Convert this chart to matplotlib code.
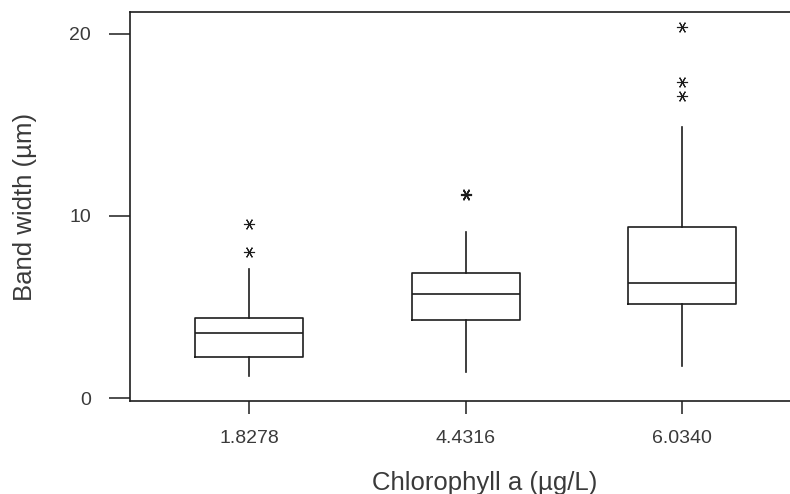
import matplotlib
matplotlib.use("Agg")
import matplotlib.pyplot as plt

plt.rcParams['font.family'] = ['Liberation Sans', 'DejaVu Sans']

# Chlorophyll a concentration groups
categories = ["1.8278", "4.4316", "6.0340"]

# Box-plot summary per group (band width, µm)
whisker_low = [1.21, 1.43, 1.76]
quartile_1 = [2.28, 4.26, 5.14]
medians = [3.58, 5.69, 6.31]
quartile_3 = [4.42, 6.88, 9.41]
whisker_high = [7.07, 9.14, 14.91]
outliers = [[9.54, 8.04], [11.17, 11.20], [20.38, 17.36, 16.59]]

y_ticks = [0, 10, 20]

ink = "#1e1e1e"
text_col = "#3a3a3a"

stats = []
for i, name in enumerate(categories):
    stats.append(dict(label=name, whislo=whisker_low[i], q1=quartile_1[i],
                      med=medians[i], q3=quartile_3[i], whishi=whisker_high[i],
                      fliers=outliers[i]))

fig = plt.figure(figsize=(7.9, 4.94), dpi=100)
# the plot frame runs past the right edge of the page
ax = fig.add_axes([0.1646, 0.188, 0.899, 0.7877])

positions = list(range(1, len(categories) + 1))
ax.bxp(stats, positions=positions, widths=0.5, showcaps=False,
       boxprops=dict(color=ink, linewidth=1.2),
       medianprops=dict(color=ink, linewidth=1.2),
       whiskerprops=dict(color=ink, linewidth=1.2),
       flierprops=dict(marker=(6, 2, 90), markersize=8, markeredgecolor=ink,
                       markerfacecolor=ink, markeredgewidth=0.8, linestyle='none'))

ax.set_xlim(0.45, 3.73)
ax.set_ylim(-0.17, 21.2)
ax.set_yticks(y_ticks)
ax.set_xticks(positions)
ax.set_xticklabels(categories)

ax.spines['right'].set_visible(False)
for side in ('left', 'top', 'bottom'):
    ax.spines[side].set_color(ink)
    ax.spines[side].set_linewidth(1.2)

ax.tick_params(axis='y', direction='out', length=15, width=1.1, color=ink,
               pad=13, labelsize=14, labelcolor=text_col)
ax.tick_params(axis='x', direction='out', length=9, width=1.1, color=ink,
               pad=12, labelsize=14, labelcolor=text_col)

ax.set_xlabel("Chlorophyll a (µg/L)", fontsize=18.5, color=text_col, labelpad=17)
ax.set_ylabel("Band width (µm)", fontsize=18.5, color=text_col, labelpad=23)

fig.savefig("out.png", dpi=100)
